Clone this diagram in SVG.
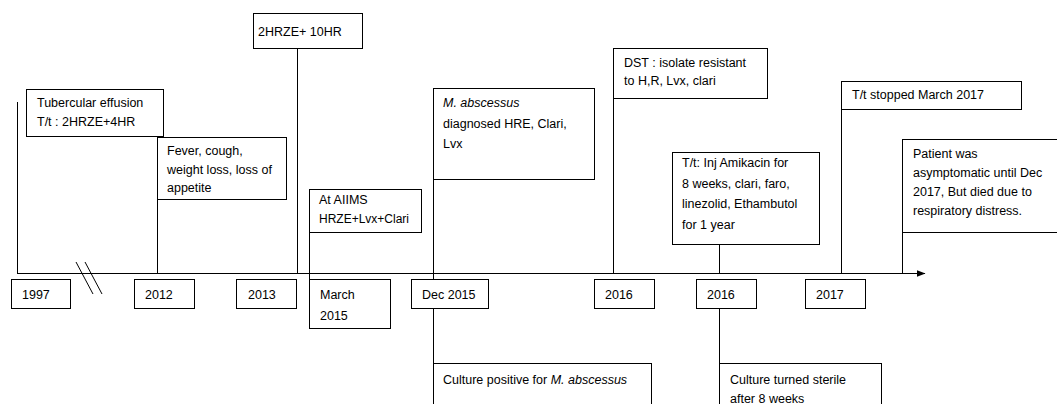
<svg xmlns="http://www.w3.org/2000/svg" width="1057" height="404" viewBox="0 0 1057 404">
<style>
.b{fill:#fff;stroke:#000;stroke-width:1}
.l{stroke:#000;stroke-width:1;fill:none}
text{font-family:"Liberation Sans",Arial,sans-serif;font-size:12.5px;fill:#000}
.i{font-style:italic}
</style>
<defs>
<marker id="ah" markerWidth="9" markerHeight="7" refX="8.5" refY="3.5" orient="auto" markerUnits="userSpaceOnUse">
<path d="M0,0 L9,3.5 L0,7 Z" fill="#000"/>
</marker>
</defs>
<rect width="1057" height="404" fill="#fff"/>
<g id="connectors">
<line class="l" x1="17" y1="273.5" x2="925" y2="273.5" marker-end="url(#ah)"/>
<line class="l" x1="76" y1="262" x2="93" y2="294"/>
<line class="l" x1="85" y1="262" x2="102" y2="294"/>
<line class="l" x1="17.5" y1="102" x2="17.5" y2="273"/>
<line class="l" x1="157.5" y1="199" x2="157.5" y2="273"/>
<line class="l" x1="297.5" y1="48" x2="297.5" y2="273"/>
<line class="l" x1="309.5" y1="232" x2="309.5" y2="279"/>
<line class="l" x1="433.5" y1="179" x2="433.5" y2="279"/>
<line class="l" x1="433.5" y1="308" x2="433.5" y2="363"/>
<line class="l" x1="613.5" y1="98" x2="613.5" y2="273"/>
<line class="l" x1="719.5" y1="244" x2="719.5" y2="273"/>
<line class="l" x1="719.5" y1="308" x2="719.5" y2="363"/>
<line class="l" x1="841.5" y1="109" x2="841.5" y2="273"/>
<line class="l" x1="902.5" y1="232" x2="902.5" y2="273"/>
</g>
<g id="n-tubercular"><rect class="b" x="26.5" y="89.5" width="137" height="47"/><text x="37" y="107">Tubercular effusion</text><text x="37" y="126">T/t : 2HRZE+4HR</text></g>
<g id="n-fever"><rect class="b" x="157.5" y="137.5" width="129" height="62"/><text x="167" y="155">Fever, cough,</text><text x="167" y="174">weight loss, loss of</text><text x="167" y="192">appetite</text></g>
<g id="n-2hrze"><rect class="b" x="253.5" y="13.5" width="109" height="35"/><text x="258" y="36">2HRZE+ 10HR</text></g>
<g id="n-aiims"><rect class="b" x="309.5" y="189.5" width="112" height="43"/><text x="319" y="204">At AIIMS</text><text x="319" y="223" style="font-size:12px">HRZE+Lvx+Clari</text></g>
<g id="n-mabs"><rect class="b" x="433.5" y="88.5" width="161" height="91"/><text x="443" y="107" class="i">M. abscessus</text><text x="443" y="128">diagnosed HRE, Clari,</text><text x="443" y="148">Lvx</text></g>
<g id="n-dst"><rect class="b" x="613.5" y="48.5" width="154" height="50"/><text x="624" y="67">DST : isolate resistant</text><text x="624" y="85">to H,R, Lvx, clari</text></g>
<g id="n-amikacin"><rect class="b" x="672.5" y="152.5" width="147" height="92"/><text x="682" y="167">T/t: Inj Amikacin for</text><text x="682" y="188">8 weeks, clari, faro,</text><text x="682" y="208">linezolid, Ethambutol</text><text x="682" y="229">for 1 year</text></g>
<g id="n-stopped"><rect class="b" x="841.5" y="81.5" width="180" height="28"/><text x="852" y="99">T/t stopped March 2017</text></g>
<g id="n-patient"><rect class="b" x="902.5" y="139.5" width="160" height="93"/><text x="913" y="158">Patient was</text><text x="913" y="177">asymptomatic until Dec</text><text x="913" y="196">2017, But died due to</text><text x="913" y="215">respiratory distress.</text></g>
<g id="n-1997"><rect class="b" x="11.5" y="279.5" width="59" height="29"/><text x="22" y="299">1997</text></g>
<g id="n-2012"><rect class="b" x="134.5" y="279.5" width="60" height="29"/><text x="145" y="299">2012</text></g>
<g id="n-2013"><rect class="b" x="236.5" y="279.5" width="60" height="29"/><text x="248" y="299">2013</text></g>
<g id="n-march2015"><rect class="b" x="309.5" y="279.5" width="81" height="49"/><text x="320" y="299">March</text><text x="320" y="320">2015</text></g>
<g id="n-dec2015"><rect class="b" x="411.5" y="279.5" width="77" height="29"/><text x="422" y="299">Dec 2015</text></g>
<g id="n-2016a"><rect class="b" x="594.5" y="279.5" width="60" height="29"/><text x="605" y="299">2016</text></g>
<g id="n-2016b"><rect class="b" x="696.5" y="279.5" width="60" height="29"/><text x="707" y="299">2016</text></g>
<g id="n-2017"><rect class="b" x="805.5" y="279.5" width="60" height="29"/><text x="816" y="299">2017</text></g>
<g id="n-culture-pos"><rect class="b" x="433.5" y="363.5" width="218" height="60"/><text x="443" y="384">Culture positive for <tspan class="i">M. abscessus</tspan></text></g>
<g id="n-culture-sterile"><rect class="b" x="719.5" y="363.5" width="162" height="60"/><text x="730" y="384">Culture turned sterile</text><text x="730" y="403">after 8 weeks</text></g>
</svg>
